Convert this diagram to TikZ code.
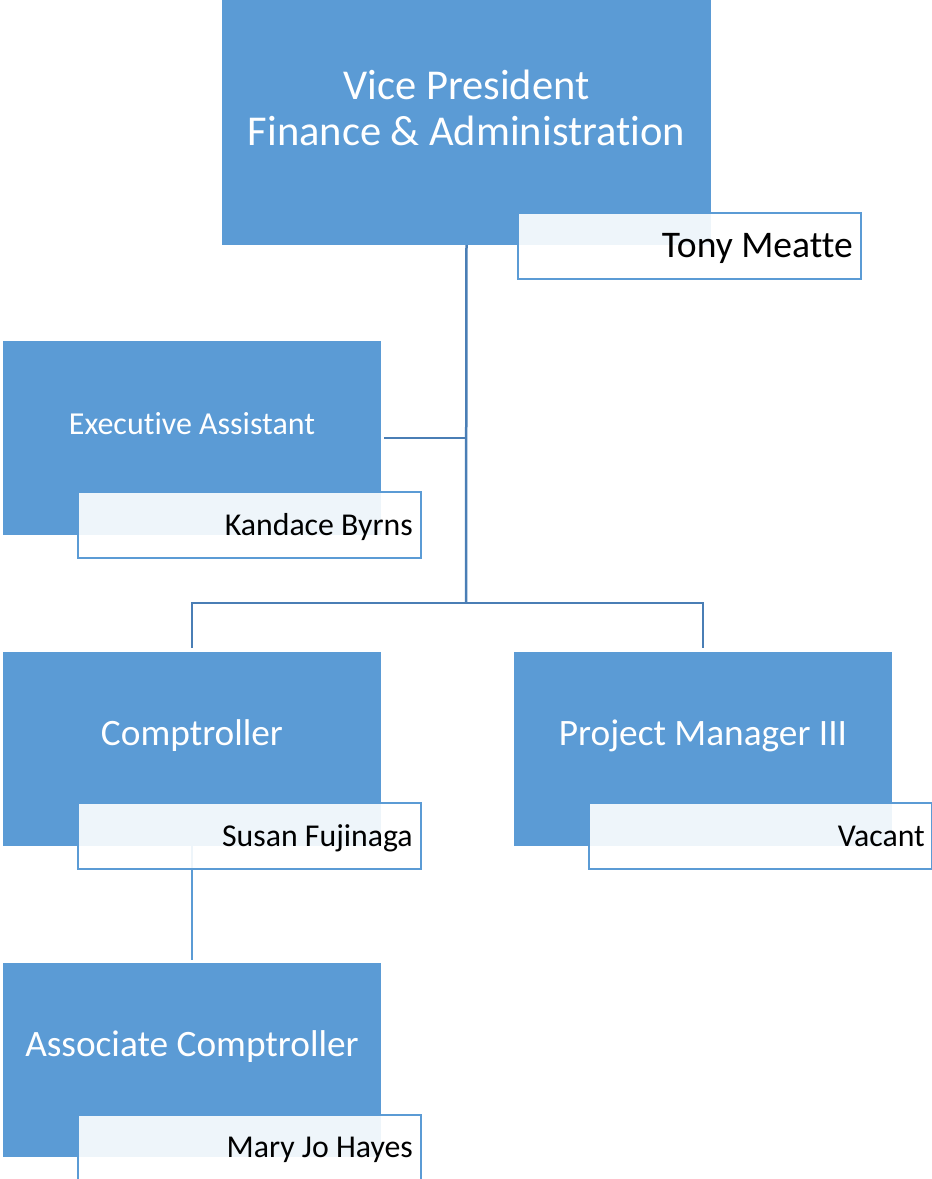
\documentclass[tikz,border=0pt]{standalone}
\usepackage{fontspec}
\setmainfont{Carlito}[Ligatures=NoCommon]
\definecolor{boxblue}{HTML}{5B9BD5}
\definecolor{linkblue}{HTML}{4A7EB5}
\definecolor{lightlink}{HTML}{5B9BD5}
\begin{document}
\begin{tikzpicture}[x=1pt,y=-1pt,
  rolebox/.style={fill=boxblue,draw=none,inner sep=0pt,minimum width=378pt,minimum height=194pt},
  roletext/.style={text=white,inner sep=0pt,align=center},
  namebox/.style={fill=white,fill opacity=0.9,text opacity=1,draw=boxblue,line width=2pt,
    inner sep=0pt,minimum width=343pt,minimum height=66pt},
  nametext/.style={text=black,inner sep=0pt,anchor=base east,font=\fontsize{31.8}{36}\selectfont},
  link/.style={draw=linkblue,line width=2.5pt},
  sublink/.style={draw=lightlink,line width=2.5pt}]
\useasboundingbox (0,0) rectangle (932,1179);

% bus point where the lower branches split
\coordinate (bus) at (466,603);

% role boxes
\node[rolebox,minimum width=489pt,minimum height=245pt] (vp) at (466.5,122.5) {};
\node[rolebox] (exec) at (192,438) {};
\node[rolebox] (comp) at (192,749) {};
\node[rolebox] (pm) at (703,749) {};
\node[rolebox] (assoc) at (192,1060) {};

% connectors
\draw[link] (vp.south) -- (bus);
\draw[link,shorten <=3pt] (exec.east) -- (exec.east -| bus);
\draw[link,shorten >=4pt] (bus) -| (comp.north);
\draw[link,shorten >=4pt] (bus) -| (pm.north);
\draw[sublink,shorten >=3pt] (comp.south) -- (assoc.north);

% role titles
\node[roletext,font=\fontsize{42.5}{46}\selectfont] (vpT) at (466.5,108) {Vice President\\Finance \& Administration};
\node[roletext,font=\fontsize{32}{38}\selectfont] (execT) at (192,424) {Executive Assistant};
\node[roletext,font=\fontsize{37.3}{42}\selectfont] (compT) at (192,736) {Comptroller};
\node[roletext,font=\fontsize{37.3}{42}\selectfont] (pmT) at (703,736) {Project Manager III};
\node[roletext,font=\fontsize{37.3}{42}\selectfont] (assocT) at (192,1047) {Associate Comptroller};

% name boxes
\node[namebox] (vpN) at (689.5,246) {};
\node[namebox] (execN) at (249.5,524.5) {};
\node[namebox] (compN) at (249.5,836) {};
\node[namebox] (pmN) at (760.5,836) {};
\node[namebox] (assocN) at (249.5,1148) {};

% incumbent names
\node[nametext,font=\fontsize{37.6}{42}\selectfont] (vpName) at (853,257) {Tony Meatte};
\node[nametext] (execName) at (413,535) {Kandace Byrns};
\node[nametext] (compName) at (413,846) {Susan Fujinaga};
\node[nametext] (pmName) at (925,846) {Vacant};
\node[nametext] (assocName) at (413,1157) {Mary Jo Hayes};
\end{tikzpicture}
\end{document}
